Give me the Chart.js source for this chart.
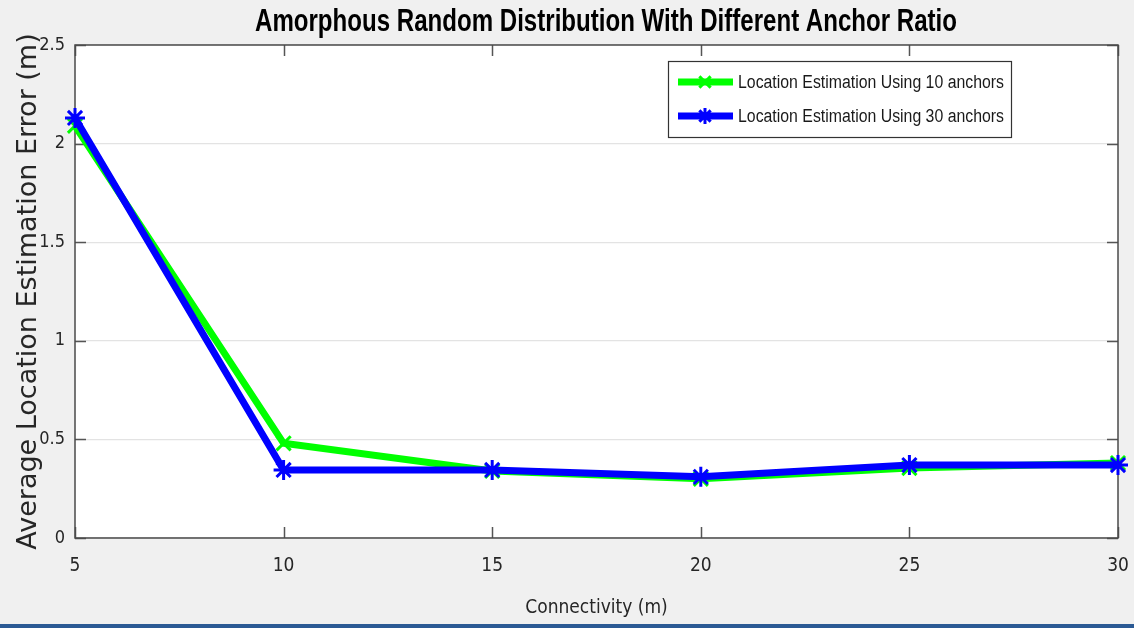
<!DOCTYPE html>
<html>
<head>
<meta charset="utf-8">
<script src="https://cdn.jsdelivr.net/npm/chart.js@4"></script>
<style>
  html, body { margin: 0; padding: 0; background: #f0f0f0; }
  #wrap { position: relative; width: 1134px; height: 628px; overflow: hidden; }
  #bottomBar { position: absolute; left: 0; top: 624px; width: 1134px; height: 4px; background: #2b5a94; }
</style>
</head>
<body>
<div id="wrap">
  <canvas id="chart" width="1134" height="628"></canvas>
  <div id="bottomBar"></div>
</div>
<script>
// connectivity values on the x axis
const connectivity = [5, 10, 15, 20, 25, 30];
// average location estimation error (m)
const errors10Anchors = [2.09, 0.48, 0.34, 0.30, 0.355, 0.38];
const errors30Anchors = [2.13, 0.345, 0.345, 0.31, 0.37, 0.37];
const xTicks = [5, 10, 15, 20, 25, 30];
const yTicks = [0, 0.5, 1, 1.5, 2, 2.5];

const titleText = 'Amorphous Random Distribution With Different Anchor Ratio';
const seriesLabels = ['Location Estimation Using 10 anchors', 'Location Estimation Using 30 anchors'];
const seriesColors = ['#00ff00', '#0000ff'];
const seriesPoints = ['crossRot', 'star'];

const narrow = '"Liberation Sans Narrow", "DejaVu Sans Condensed", "Roboto Condensed", "Liberation Sans", sans-serif';

function toPoints(values) {
  return values.map((v, i) => ({ x: connectivity[i], y: v }));
}

// draw text squeezed horizontally to a given width (condensed look)
function squeezedText(ctx, text, cx, cy, width) {
  const w = ctx.measureText(text).width;
  const k = Math.min(1, width / w);
  ctx.save();
  ctx.translate(cx, cy);
  ctx.scale(k, 1);
  ctx.textAlign = 'center';
  ctx.textBaseline = 'middle';
  ctx.fillText(text, 0, 0);
  ctx.restore();
}

// white plot background, axes box and inward ticks (MATLAB look)
const axesBox = {
  id: 'axesBox',
  beforeDraw(chart) {
    const { ctx, chartArea: a } = chart;
    ctx.save();
    ctx.fillStyle = '#ffffff';
    ctx.fillRect(a.left, a.top, a.right - a.left, a.bottom - a.top);
    ctx.restore();
  },
  beforeDatasetsDraw(chart) {
    const { ctx, chartArea: a, scales } = chart;
    ctx.save();
    ctx.strokeStyle = '#555555';
    ctx.lineWidth = 1.5;
    ctx.beginPath();
    xTicks.forEach((t) => {
      const px = Math.round(scales.x.getPixelForValue(t)) + 0.5;
      ctx.moveTo(px, a.bottom); ctx.lineTo(px, a.bottom - 11);
      ctx.moveTo(px, a.top); ctx.lineTo(px, a.top + 11);
    });
    yTicks.forEach((t) => {
      const py = Math.round(scales.y.getPixelForValue(t)) + 0.5;
      ctx.moveTo(a.left, py); ctx.lineTo(a.left + 11, py);
      ctx.moveTo(a.right, py); ctx.lineTo(a.right - 11, py);
    });
    ctx.stroke();
    ctx.strokeStyle = '#4a4a4a';
    ctx.strokeRect(a.left, a.top, a.right - a.left, a.bottom - a.top);
    ctx.restore();
  },
};

// bold condensed title above the plot
const squeezedTitle = {
  id: 'squeezedTitle',
  afterDraw(chart) {
    const { ctx } = chart;
    ctx.save();
    ctx.fillStyle = '#000000';
    ctx.font = 'bold 31px "Liberation Sans", Arial, sans-serif';
    squeezedText(ctx, titleText, 606, 22, 702);
    ctx.restore();
  },
};

// boxed legend in the upper right of the plot
const boxLegend = {
  id: 'boxLegend',
  afterDraw(chart) {
    const { ctx } = chart;
    const box = { x: 668, y: 61, w: 343, h: 76 };
    ctx.save();
    ctx.fillStyle = '#ffffff';
    ctx.fillRect(box.x, box.y, box.w, box.h);
    ctx.strokeStyle = '#333333';
    ctx.lineWidth = 1.2;
    ctx.strokeRect(box.x + 0.5, box.y + 0.5, box.w, box.h);
    const rows = [box.y + 21, box.y + 55];
    rows.forEach((ry, i) => {
      ctx.strokeStyle = seriesColors[i];
      ctx.lineWidth = 7;
      ctx.beginPath();
      ctx.moveTo(678, ry);
      ctx.lineTo(733, ry);
      ctx.stroke();
      ctx.fillStyle = seriesColors[i];
      ctx.lineWidth = 3;
      Chart.helpers.drawPoint(ctx, { pointStyle: seriesPoints[i], radius: 8, rotation: 0, borderWidth: 3 }, 705, ry);
      ctx.fillStyle = '#1a1a1a';
      ctx.font = '18px "Liberation Sans", Arial, sans-serif';
      squeezedText(ctx, seriesLabels[i], 738 + 133, ry + 1, 266);
    });
    ctx.restore();
  },
};

new Chart(document.getElementById('chart'), {
  type: 'line',
  data: {
    datasets: [
      {
        label: seriesLabels[0],
        data: toPoints(errors10Anchors),
        borderColor: seriesColors[0],
        backgroundColor: seriesColors[0],
        borderWidth: 7,
        pointStyle: seriesPoints[0],
        pointRadius: 10,
        pointBorderWidth: 3,
        tension: 0,
        order: 1,
      },
      {
        label: seriesLabels[1],
        data: toPoints(errors30Anchors),
        borderColor: seriesColors[1],
        backgroundColor: seriesColors[1],
        borderWidth: 7,
        pointStyle: seriesPoints[1],
        pointRadius: 10,
        pointBorderWidth: 3,
        tension: 0,
        order: 0,
      },
    ],
  },
  options: {
    responsive: false,
    animation: false,
    clip: false,
    layout: { autoPadding: false, padding: { left: 0, right: 16, top: 45, bottom: 0 } },
    plugins: {
      legend: { display: false },
      tooltip: { enabled: false },
      title: { display: false },
    },
    scales: {
      x: {
        type: 'linear',
        min: 5,
        max: 30,
        afterFit: (s) => { s.height = 90; s.paddingLeft = 0; s.paddingRight = 12; },
        afterBuildTicks: (s) => { s.ticks = xTicks.map((v) => ({ value: v })); },
        grid: { display: false, drawTicks: false },
        border: { display: false },
        ticks: { color: '#262626', font: { family: narrow, size: 19 }, padding: 17, maxRotation: 0 },
        title: {
          display: true,
          text: 'Connectivity (m)',
          color: '#262626',
          font: { family: narrow, size: 19 },
          padding: { top: 0, bottom: 9 },
        },
      },
      y: {
        min: 0,
        max: 2.5,
        afterFit: (s) => { s.width = 75; },
        afterBuildTicks: (s) => { s.ticks = yTicks.map((v) => ({ value: v })); },
        grid: { color: '#e3e3e3', lineWidth: 1.2, drawTicks: false },
        border: { display: false },
        ticks: {
          color: '#262626',
          font: { family: narrow, size: 18 },
          padding: 10,
          callback: (v) => String(v),
        },
        title: {
          display: true,
          text: 'Average Location Estimation Error (m)',
          color: '#262626',
          font: { family: '"DejaVu Sans", Verdana, sans-serif', size: 27 },
          padding: { top: 13, bottom: 0 },
        },
      },
    },
  },
  plugins: [axesBox, squeezedTitle, boxLegend],
});
</script>
</body>
</html>
